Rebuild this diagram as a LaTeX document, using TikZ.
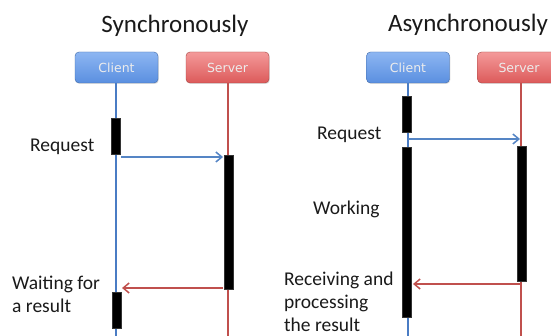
\documentclass[tikz,border=0pt]{standalone}
\usepackage{fontspec}
\setmainfont{Carlito}
\newfontfamily\boxfont{DejaVu Sans}
\usetikzlibrary{arrows.meta,shadows}
\definecolor{cblue}{HTML}{4A7CC4}
\definecolor{cred}{HTML}{C0504D}
\definecolor{ablue}{HTML}{5585C5}
\definecolor{txt}{HTML}{1A1A1A}
\definecolor{btop}{HTML}{8DB6F2}
\definecolor{bbot}{HTML}{5A8FE0}
\definecolor{rtop}{HTML}{F49A9A}
\definecolor{rbot}{HTML}{DC5A5A}
\tikzset{
  actor/.style={rounded corners=4pt, minimum width=83pt, minimum height=31pt, inner sep=0pt,
    font=\boxfont\fontsize{12.5}{14}\selectfont, text=white!85!gray,
    drop shadow={shadow xshift=0.8pt, shadow yshift=-1pt, opacity=0.25}},
  clientbox/.style={actor, draw=cblue!85!black, top color=btop, bottom color=bbot},
  serverbox/.style={actor, draw=cred!85!black, top color=rtop, bottom color=rbot},
  bluelife/.style={draw=cblue, line width=1.2pt},
  redlife/.style={draw=cred, line width=1.2pt},
  actbar/.style={fill=black, draw=black!80, line width=0.5pt, minimum width=9pt, inner sep=0pt},
  msgblue/.style={draw=ablue, line width=1.5pt, -{Straight Barb[length=6pt,width=10pt,line width=1.5pt]}},
  msgred/.style={draw=cred, line width=1.5pt, -{Straight Barb[length=6pt,width=10pt,line width=1.5pt]}},
  lbl/.style={font=\fontsize{19.5}{23}\selectfont, text=txt, inner sep=0pt, align=left},
  ttl/.style={font=\fontsize{25}{28}\selectfont, text=txt, inner sep=0pt},
}
\begin{document}
\begin{tikzpicture}[x=1pt,y=-1pt]
\clip (0,0) rectangle (551,336);
\fill[white] (0,0) rectangle (551,336);

% ---------- Left: synchronous ----------
\node[ttl, anchor=base] (t1) at (175,33) {Synchronously};
\coordinate (lcb) at (116,336);
\coordinate (lsb) at (228,336);
\node[clientbox] (lc) at (116.5,67.5) {Client};
\node[serverbox] (ls) at (227.5,67.5) {Server};
\draw[bluelife] (lc.south -| lcb) -- (lcb);
\draw[redlife] (ls.south -| lsb) -- (lsb);
\node[actbar, minimum height=36pt, anchor=north] (lb1) at (116,118) {};
\node[actbar, minimum height=134pt, anchor=north] (lb2) at (229,155) {};
\node[actbar, minimum height=36pt, anchor=north] (lb3) at (117,292) {};
\coordinate (lr1) at (121,157);
\coordinate (lr2) at (223,157);
\draw[msgblue] (lr1) -- (lr2);
\coordinate (lw1) at (223,288);
\coordinate (lw2) at (122,288);
\draw[msgred] (lw1) -- (lw2);
\node[lbl, anchor=west] (lreq) at (30,147) {Request};
\node[lbl, anchor=west] (lwait) at (12,294) {Waiting for\\a result};

% ---------- Right: asynchronous ----------
\node[ttl, anchor=base] (t2) at (468,32) {Asynchronously};
\coordinate (rcb) at (408,336);
\coordinate (rsb) at (521,336);
\node[clientbox] (rc) at (408,67.5) {Client};
\node[serverbox] (rs) at (519,67.5) {Server};
\draw[bluelife] (rc.south -| rcb) -- (rcb);
\draw[redlife] (rs.south -| rsb) -- (rsb);
\node[actbar, minimum height=36pt, anchor=north] (rb1) at (406.5,96) {};
\node[actbar, minimum height=170pt, anchor=north] (rb2) at (406.5,147) {};
\node[actbar, minimum height=135pt, anchor=north] (rb3) at (522,146) {};
\coordinate (rr1) at (408,139);
\coordinate (rr2) at (520,139);
\draw[msgblue] (rr1) -- (rr2);
\coordinate (rw1) at (520,284);
\coordinate (rw2) at (413,284);
\draw[msgred] (rw1) -- (rw2);
\node[lbl, anchor=west] (rreq) at (317,135) {Request};
\node[lbl, anchor=west] (rwork) at (313,209) {Working};
\node[lbl, anchor=west] (rrecv) at (284,302) {Receiving and\\processing\\the result};
\end{tikzpicture}
\end{document}
